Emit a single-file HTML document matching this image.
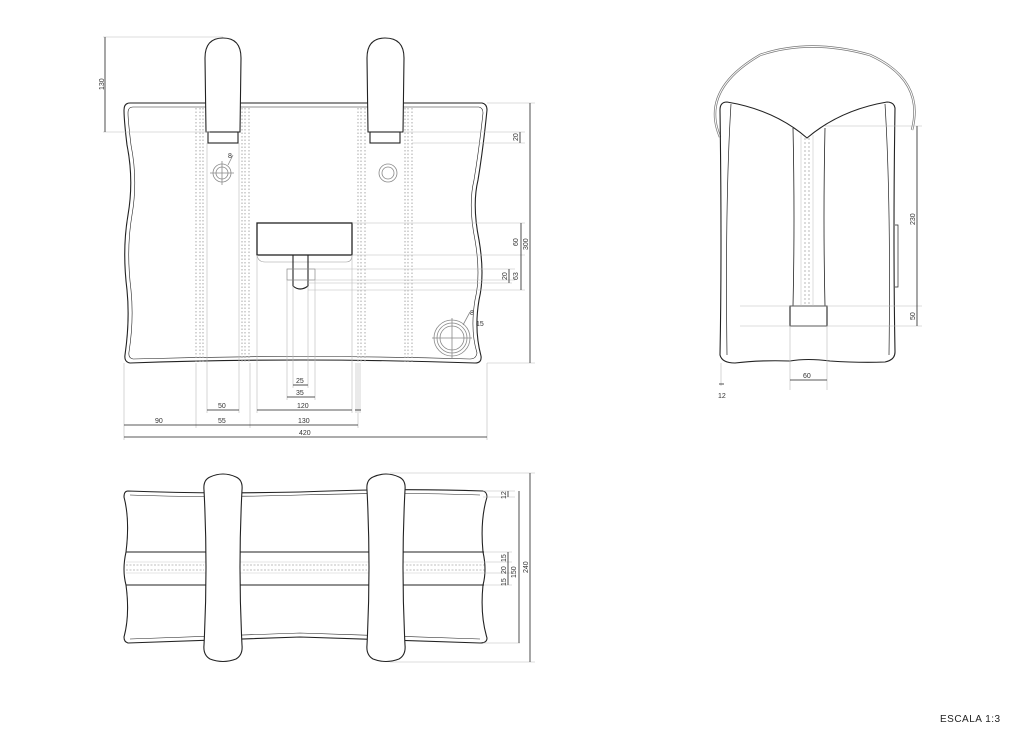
<!DOCTYPE html>
<html><head><meta charset="utf-8"><style>
html,body{margin:0;padding:0;background:#fff;}
svg{display:block;}
text{font-family:"Liberation Sans",sans-serif;font-size:7px;fill:#333;}
</style></head><body>
<svg width="1024" height="755" viewBox="0 0 1024 755" xmlns="http://www.w3.org/2000/svg">
<g fill="none" stroke="#222" stroke-width="1.1">
<!-- FRONT VIEW body -->
<path d="M130,103 L482,103 Q487,104 487,110 Q483,150 478,180 Q472,205 479,240 Q485,275 479,300 Q474,330 481,356 Q482,363 475,363 Q300,357 130,363 Q124,362 125,355 Q130,320 127,290 Q122,250 128,215 Q134,180 127,145 Q124,120 124,110 Q124,103 130,103 Z"/>
<path d="M133,107 L479,107 Q483,108 483,113 Q479,150 474,180 Q468,205 475,240 Q481,275 475,300 Q470,330 477,353 Q476,359 470,359 Q300,354 133,359 Q128,358 129,352 Q134,320 131,290 Q126,250 132,215 Q138,180 131,145 Q128,120 128,113 Q128,107 133,107 Z" stroke-width="0.6"/>
<path d="M206,132 L205,58 Q205,38 223,38 Q241,38 241,58 L240,132 Z" fill="#fff"/>
<rect x="208" y="132" width="30" height="11" fill="#fff"/>
<path d="M368,132 L367,58 Q367,38 385,38 Q404,38 404,58 L403,132 Z" fill="#fff"/>
<rect x="370" y="132" width="30" height="11" fill="#fff"/>
<rect x="257" y="223" width="95" height="32" stroke-width="1.3"/>
<path d="M257,255 Q258,262 265,262 L346,262 Q352,262 352,255" stroke="#999" stroke-width="0.6"/>
<path d="M293,255 L293,286 Q300,292 308,286 L308,255" />
<rect x="287" y="269" width="28" height="11" stroke="#888" stroke-width="0.7"/>
</g>
<g stroke="#aaa" stroke-width="1" stroke-dasharray="1.5,2" fill="none">
<line x1="196" y1="108" x2="196" y2="362"/><line x1="200" y1="108" x2="200" y2="362"/><line x1="203" y1="108" x2="203" y2="362"/>
<line x1="242" y1="108" x2="242" y2="362"/><line x1="245" y1="108" x2="245" y2="362"/><line x1="249" y1="108" x2="249" y2="362"/>
<line x1="358" y1="108" x2="358" y2="362"/><line x1="361" y1="108" x2="361" y2="362"/><line x1="365" y1="108" x2="365" y2="362"/>
<line x1="405" y1="108" x2="405" y2="362"/><line x1="408" y1="108" x2="408" y2="362"/><line x1="412" y1="108" x2="412" y2="362"/>
</g>
<g fill="none" stroke="#888" stroke-width="0.8">
<circle cx="222" cy="173" r="9"/><circle cx="222" cy="173" r="6"/>
<circle cx="388" cy="173" r="9"/><circle cx="388" cy="173" r="6"/>
<circle cx="452" cy="338" r="18"/><circle cx="452" cy="338" r="15"/><circle cx="452" cy="338" r="12"/>
<line x1="210" y1="173" x2="234" y2="173"/><line x1="222" y1="161" x2="222" y2="185"/>
<line x1="432" y1="338" x2="472" y2="338"/><line x1="452" y1="318" x2="452" y2="358"/>
<line x1="228" y1="165" x2="233" y2="155"/><line x1="463" y1="325" x2="470" y2="312"/>
</g>
<text x="228" y="158" font-size="5">8</text><text x="470" y="315" font-size="5">8</text><text x="476" y="326" font-size="5">15</text>
<g stroke="#bbb" stroke-width="0.6">
<line x1="103" y1="37" x2="223" y2="37"/><line x1="103" y1="132" x2="210" y2="132"/>
<line x1="403" y1="132" x2="525" y2="132"/><line x1="412" y1="143" x2="525" y2="143"/>
<line x1="487" y1="103" x2="535" y2="103"/><line x1="487" y1="363" x2="535" y2="363"/>
<line x1="352" y1="223" x2="525" y2="223"/><line x1="352" y1="255" x2="525" y2="255"/>
<line x1="315" y1="269" x2="515" y2="269"/><line x1="315" y1="280" x2="515" y2="280"/><line x1="308" y1="283" x2="512" y2="283"/><line x1="308" y1="290" x2="525" y2="290"/>
<line x1="124" y1="363" x2="124" y2="440"/><line x1="487" y1="363" x2="487" y2="440"/>
<line x1="196" y1="363" x2="196" y2="428"/><line x1="250" y1="363" x2="250" y2="428"/><line x1="358" y1="363" x2="358" y2="428"/>
<line x1="207" y1="143" x2="207" y2="413"/><line x1="239" y1="143" x2="239" y2="413"/>
<line x1="257" y1="255" x2="257" y2="413"/><line x1="352" y1="255" x2="352" y2="413"/>
<line x1="287" y1="280" x2="287" y2="400"/><line x1="315" y1="280" x2="315" y2="400"/>
<line x1="293" y1="286" x2="293" y2="388"/><line x1="308" y1="286" x2="308" y2="388"/>
<line x1="356" y1="363" x2="356" y2="413"/><line x1="360" y1="363" x2="360" y2="413"/>
</g>
<g stroke="#222" stroke-width="0.8">
<line x1="105" y1="37" x2="105" y2="132"/>
<line x1="530" y1="103" x2="530" y2="363"/>
<line x1="520" y1="132" x2="520" y2="143"/>
<line x1="521" y1="223" x2="521" y2="290"/>
<line x1="509" y1="269" x2="509" y2="283"/>
<line x1="293" y1="385" x2="308" y2="385"/>
<line x1="287" y1="397" x2="315" y2="397"/>
<line x1="207" y1="410" x2="239" y2="410"/>
<line x1="257" y1="410" x2="352" y2="410"/>
<line x1="355" y1="410" x2="361" y2="410"/>
<line x1="124" y1="425" x2="358" y2="425"/>
<line x1="124" y1="437" x2="487" y2="437"/>
</g>
<text x="96" y="88" transform="rotate(-90 101 85)">130</text>
<text transform="translate(518,141) rotate(-90)">20</text>
<text transform="translate(518,246) rotate(-90)">60</text>
<text transform="translate(528,250) rotate(-90)">300</text>
<text transform="translate(518,280) rotate(-90)">63</text>
<text transform="translate(507,280) rotate(-90)">20</text>
<text x="296" y="383">25</text><text x="296" y="395">35</text>
<text x="218" y="408">50</text><text x="297" y="408">120</text>
<text x="155" y="423">90</text><text x="218" y="423">55</text><text x="298" y="423">130</text><text x="299" y="435">420</text>

<!-- SIDE VIEW -->
<g fill="none">
<path d="M720,137 Q700,90 760,55 Q810,38 870,55 Q925,80 912,130" stroke="#777" stroke-width="2.4"/>
<path d="M720,137 Q700,90 760,55 Q810,38 870,55 Q925,80 912,130" stroke="#fff" stroke-width="1"/>
<g stroke="#222" stroke-width="1.1">
<path d="M727,102 Q720,102 720,110 Q722,250 720,355 Q722,363 735,363 Q760,360 790,361 Q807,358 830,361 Q860,363 885,362 Q895,360 895,352 Q893,240 895,108 Q894,102 887,102 Q840,110 807,138 Q775,110 727,102 Z"/>
<path d="M731,104 Q725,200 727,355" stroke-width="0.7"/>
<path d="M885,104 Q891,200 889,355" stroke-width="0.7"/>
<path d="M793,128 Q795,220 793,306 M825,128 Q823,220 825,306" stroke-width="0.8"/>
<rect x="790" y="306" width="37" height="20" fill="#fff"/>
<path d="M895,225 L898,225 L898,287 L895,287" stroke-width="0.7"/>
</g>
<g stroke="#aaa" stroke-width="0.8" stroke-dasharray="2,2">
<line x1="805" y1="138" x2="805" y2="306"/><line x1="809" y1="138" x2="809" y2="306"/>
</g>
<line x1="801" y1="135" x2="801" y2="306" stroke="#bbb" stroke-width="0.5"/>
<line x1="813" y1="135" x2="813" y2="306" stroke="#bbb" stroke-width="0.5"/>
</g>
<g stroke="#bbb" stroke-width="0.6">
<line x1="825" y1="126" x2="922" y2="126"/><line x1="740" y1="306" x2="922" y2="306"/><line x1="740" y1="326" x2="922" y2="326"/>
<line x1="790" y1="326" x2="790" y2="390"/><line x1="827" y1="326" x2="827" y2="390"/>
<line x1="721" y1="363" x2="721" y2="386"/>
</g>
<g stroke="#222" stroke-width="0.8">
<line x1="917" y1="126" x2="917" y2="326"/><line x1="790" y1="380" x2="827" y2="380"/><line x1="719" y1="384" x2="724" y2="384"/>
</g>
<text transform="translate(915,225) rotate(-90)">230</text>
<text transform="translate(915,320) rotate(-90)">50</text>
<text x="803" y="378">60</text>
<text x="718" y="398" font-size="6">12</text>

<!-- TOP VIEW -->
<g stroke="#ccc" stroke-width="0.5">
<line x1="126" y1="562" x2="486" y2="562"/><line x1="126" y1="573" x2="486" y2="573"/>
</g>
<g stroke="#aaa" stroke-width="0.8" stroke-dasharray="2,1.5">
<line x1="126" y1="565" x2="204" y2="565"/><line x1="126" y1="570" x2="204" y2="570"/>
<line x1="243" y1="565" x2="367" y2="565"/><line x1="243" y1="570" x2="367" y2="570"/>
<line x1="406" y1="565" x2="486" y2="565"/><line x1="406" y1="570" x2="486" y2="570"/>
</g>
<g fill="none" stroke="#222" stroke-width="1.1">
<path d="M128,491 Q205,494 300,492 Q400,488 483,491 Q487,492 487,497 Q480,520 483,552 Q487,570 483,585 Q480,615 487,638 Q487,643 480,643 Q400,640 300,637 Q205,640 128,643 Q124,642 124,637 Q130,615 126,585 Q122,570 126,552 Q130,520 124,497 Q124,491 128,491 Z"/>
<path d="M130,495 Q205,498 300,495 Q400,492 480,495 M130,639 Q205,636 300,633 Q400,636 480,639" stroke-width="0.6"/>
<line x1="126" y1="552" x2="484" y2="552" stroke-width="0.9"/>
<line x1="126" y1="585" x2="484" y2="585" stroke-width="0.9"/>
<path d="M210,477 Q223,471 236,477 Q243,480 242,490 Q238,567 242,645 Q243,655 236,659 Q223,664 210,659 Q203,655 204,645 Q208,567 204,490 Q203,480 210,477 Z" fill="#fff"/>
<path d="M373,477 Q386,471 399,477 Q406,480 405,490 Q401,567 405,645 Q406,655 399,659 Q386,664 373,659 Q366,655 367,645 Q371,567 367,490 Q366,480 373,477 Z" fill="#fff"/>
</g>
<g stroke="#bbb" stroke-width="0.6">
<line x1="390" y1="473" x2="535" y2="473"/><line x1="390" y1="662" x2="535" y2="662"/>
<line x1="483" y1="491" x2="515" y2="491"/><line x1="483" y1="497" x2="515" y2="497"/>
<line x1="484" y1="552" x2="512" y2="552"/><line x1="484" y1="562" x2="512" y2="562"/><line x1="484" y1="573" x2="512" y2="573"/><line x1="484" y1="585" x2="512" y2="585"/>
<line x1="483" y1="643" x2="520" y2="643"/>
</g>
<g stroke="#222" stroke-width="0.8">
<line x1="530" y1="473" x2="530" y2="662"/>
<line x1="519" y1="491" x2="519" y2="643"/>
<line x1="508" y1="491" x2="508" y2="497"/>
<line x1="508" y1="552" x2="508" y2="585"/>
</g>
<text transform="translate(506,499) rotate(-90)" font-size="6">12</text>
<text transform="translate(506,562) rotate(-90)" font-size="6">15</text>
<text transform="translate(506,574) rotate(-90)" font-size="6">20</text>
<text transform="translate(506,586) rotate(-90)" font-size="6">15</text>
<text transform="translate(516,578) rotate(-90)" font-size="6">150</text>
<text transform="translate(528,573) rotate(-90)">240</text>

<text x="940" y="722" style="font-size:10px;fill:#222;letter-spacing:0.5px">ESCALA 1:3</text>
</svg>
</body></html>
